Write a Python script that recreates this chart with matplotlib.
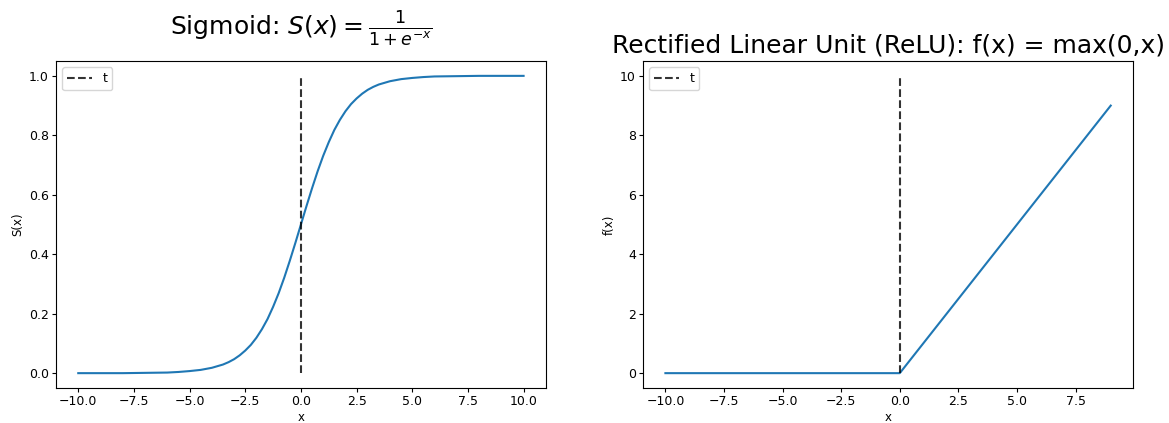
import numpy as np
import matplotlib
matplotlib.use("Agg")
import matplotlib.pyplot as plt

# --- Data ---
SIG_X = [-10, -8, -7, -6, -5.5, -5, -4.5, -4, -3.5, -3.25, -3, -2.75, -2.5,
         -2.25, -2, -1.75, -1.5, -1.25, -1, -0.75, -0.5, -0.25, 0, 0.25, 0.5,
         0.75, 1, 1.25, 1.5, 1.75, 2, 2.25, 2.5, 2.75, 3, 3.25, 3.5, 4, 4.5,
         5, 5.5, 6, 7, 8, 10]
SIG_Y = [0.000, 0.000, 0.001, 0.002, 0.004, 0.007, 0.011, 0.018, 0.029, 0.037,
         0.047, 0.060, 0.076, 0.095, 0.119, 0.148, 0.182, 0.223, 0.269, 0.321,
         0.378, 0.438, 0.500, 0.562, 0.622, 0.679, 0.731, 0.777, 0.818, 0.852,
         0.881, 0.905, 0.924, 0.940, 0.953, 0.963, 0.971, 0.982, 0.989, 0.993,
         0.996, 0.998, 0.999, 1.000, 1.000]

RELU_X = [-10, -9, -8, -7, -6, -5, -4, -3, -2, -1, 0, 1, 2, 3, 4, 5, 6, 7, 8, 9]
RELU_Y = [0, 0, 0, 0, 0, 0, 0, 0, 0, 0, 0, 1, 2, 3, 4, 5, 6, 7, 8, 9]

T_X = 0
SIG_T_RANGE = (0, 1)
RELU_T_RANGE = (0, 10)

plt.rcParams.update({
    "font.size": 9,
    "xtick.major.size": 2.6,
    "ytick.major.size": 2.6,
    "xtick.major.pad": 2.6,
    "ytick.major.pad": 2.6,
    "axes.labelpad": 2,
})

fig, (ax1, ax2) = plt.subplots(1, 2, figsize=(11.69, 4.23), dpi=100)
fig.subplots_adjust(left=0.0479, right=0.9692, top=0.8558, bottom=0.0827,
                    wspace=0.1986)

# sigmoid
ax1.plot(SIG_X, SIG_Y, color="C0")
ax1.vlines(T_X, *SIG_T_RANGE, colors="k", linestyles="dashed", alpha=0.8,
           label="t")
ax1.set_title(r"Sigmoid: $S(x) = \frac{1}{1+e^{-x}}$", fontsize=18, pad=19)
ax1.set_xlabel("x", fontsize=8.5)
ax1.set_ylabel("S(x)", fontsize=8.5, labelpad=3)
ax1.legend(loc="upper left")

# relu
ax2.plot(RELU_X, RELU_Y, color="C0")
ax2.vlines(T_X, *RELU_T_RANGE, colors="k", linestyles="dashed", alpha=0.8,
           label="t")
ax2.set_title("Rectified Linear Unit (ReLU): f(x) = max(0,x)", fontsize=18)
ax2.set_xlabel("x", fontsize=8.5)
ax2.set_ylabel("f(x)", fontsize=8.5, labelpad=3)
ax2.legend(loc="upper left")

fig.savefig("out.png", dpi=100)
